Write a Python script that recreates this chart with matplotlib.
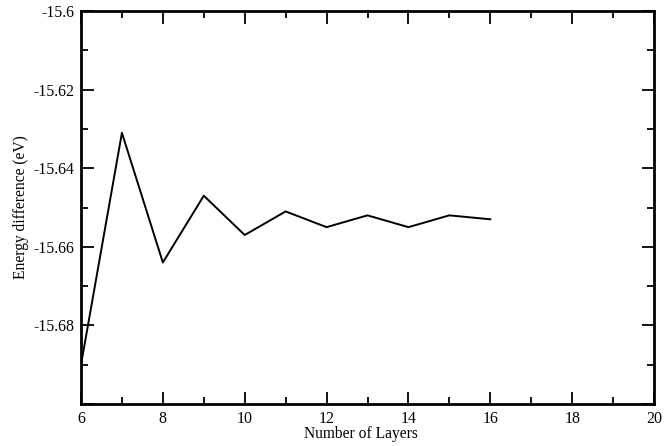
import matplotlib
matplotlib.use("Agg")
import matplotlib.pyplot as plt
from matplotlib.ticker import MultipleLocator, FixedLocator

layers = [6, 7, 8, 9, 10, 11, 12, 13, 14, 15, 16]
energy = [-15.690, -15.631, -15.664, -15.647, -15.657, -15.651,
          -15.655, -15.652, -15.655, -15.652, -15.653]

plt.rcParams["font.family"] = ["Liberation Serif", "DejaVu Serif"]
plt.rcParams["font.size"] = 11.4

fig = plt.figure(figsize=(6.66, 4.46), dpi=100)
ax = fig.add_axes([81 / 666, 1 - 404 / 446, 573 / 666, 393 / 446])

ax.plot(layers, energy, color="black", linewidth=1.4)

ax.set_xlim(6, 20)
ax.set_ylim(-15.7, -15.6)
ax.xaxis.set_major_locator(MultipleLocator(2))
ax.xaxis.set_minor_locator(MultipleLocator(1))
ax.yaxis.set_major_locator(FixedLocator([-15.7, -15.68, -15.66, -15.64, -15.62, -15.6]))
ax.yaxis.set_minor_locator(MultipleLocator(0.01))
ax.set_yticklabels(["", "-15.68", "-15.66", "-15.64", "-15.62", "-15.6"])

ax.tick_params(which="both", direction="in", top=True, right=True, width=1.3, pad=5)
ax.tick_params(which="major", length=9)
ax.tick_params(which="minor", length=5)
for s in ax.spines.values():
    s.set_linewidth(2)

ax.set_xlabel("Number of Layers", fontsize=11.2, labelpad=1)
ax.xaxis.set_label_coords(0.489, -0.055)
ax.set_ylabel("Energy difference (eV)", fontsize=11.2, labelpad=3)

fig.savefig("out.png", dpi=100)
